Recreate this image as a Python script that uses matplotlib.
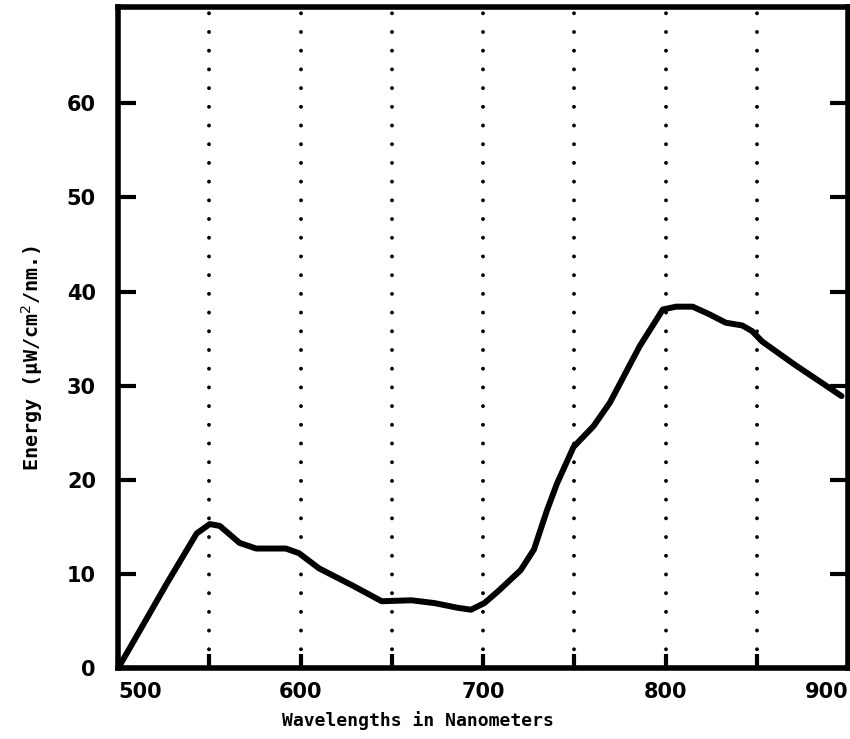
import numpy as np
from matplotlib import pyplot as plt

# curve
wavelength = [500, 505.7, 526.7, 543.0, 550.2, 555.7, 566.5, 575.6, 591.9, 599.1,
              610.0, 628.1, 644.4, 660.7, 673.4, 686.1, 693.3, 700.6, 707.8, 720.5,
              727.8, 735.0, 740.4, 749.5, 760.4, 769.4, 785.7, 798.4, 805.7, 814.7,
              823.8, 832.8, 841.9, 847.3, 852.8, 870.9, 881.7, 896.3]
energy = [0, 1.9, 9.0, 14.3, 15.3, 15.1, 13.3, 12.7, 12.7, 12.2,
          10.6, 8.8, 7.1, 7.2, 6.9, 6.4, 6.2, 6.9, 8.1, 10.4,
          12.6, 16.8, 19.6, 23.5, 25.7, 28.2, 34.2, 38.1, 38.4, 38.4,
          37.6, 36.7, 36.4, 35.8, 34.7, 32.2, 30.8, 28.9]

x_ticks = [500, 550, 600, 650, 700, 750, 800, 850, 900]
x_labels = ["500", "", "600", "", "700", "", "800", "", "900"]
grid_x = [550, 600, 650, 700, 750, 800, 850]
y_ticks = [0, 10, 20, 30, 40, 50, 60]

fig = plt.figure(figsize=(8.5, 7.39), dpi=100)
ax = fig.add_axes([0.139, 0.096, 0.859, 0.894])

for xv in grid_x:
    ax.axvline(xv, color="black", linewidth=2.8, linestyle=(0, (0.01, 4.8)),
               dash_capstyle="round")

ax.plot(wavelength, energy, color="black", linewidth=4.3, solid_capstyle="round")

ax.set_xlim(500, 900)
ax.set_ylim(0, 70.2)

ax.set_xticks(x_ticks)
ax.set_xticklabels(x_labels)
ax.set_yticks(y_ticks)

ax.tick_params(axis="x", direction="in", length=10, width=3, pad=10,
               labelsize=15, bottom=True, color="black")
ax.tick_params(axis="y", direction="in", length=13, width=3, pad=16,
               labelsize=15, right=True)
for lab in ax.get_xticklabels() + ax.get_yticklabels():
    lab.set_fontweight("bold")
ax.get_xticklabels()[-1].set_horizontalalignment("right")
ax.get_xticklabels()[0].set_horizontalalignment("left")

for sp in ax.spines.values():
    sp.set_linewidth(4)

ax.set_xlabel("Wavelengths in Nanometers", family="DejaVu Sans Mono",
              fontweight="bold", fontsize=13)
ax.xaxis.set_label_coords(0.411, -0.065)
ax.set_ylabel("Energy (\u03bcW/cm$^2$/nm.)", family="DejaVu Sans Mono",
              fontweight="bold", fontsize=14.5)
ax.yaxis.set_label_coords(-0.100, 0.47)

plt.savefig("out.png", dpi=100)
